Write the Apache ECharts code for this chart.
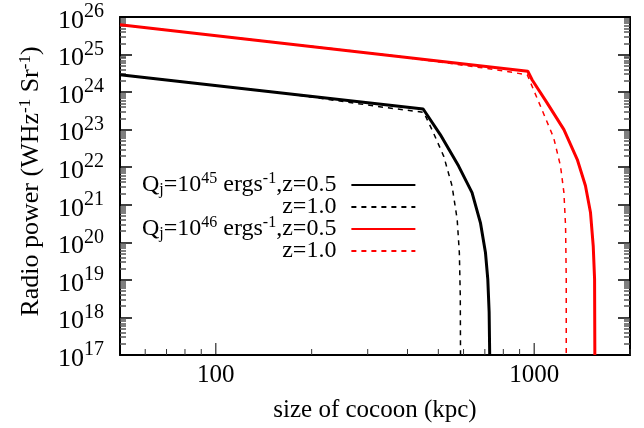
<!DOCTYPE html>
<html>
<head>
<meta charset="utf-8">
<script src="https://cdn.jsdelivr.net/npm/echarts@6/dist/echarts.min.js"></script>
<style>html,body{margin:0;padding:0;background:#fff}#c{width:644px;height:428px}</style>
</head>
<body>
<div id="c"></div>
<script>
// Data (x: cocoon size in kpc, y: radio power in W Hz^-1 Sr^-1)
var q45z05_size  = [50, 448, 507, 579, 638, 678, 703, 715, 722, 725];
var q45z05_power = [2.9e24, 3.55e23, 7.4e22, 1.07e22, 2.1e21, 3.3e20, 5.4e19, 1.05e19, 1.4e18, 1.0e17];
var q45z10_size  = [50, 168, 340, 450, 483, 520, 552, 573, 582, 586, 587];
var q45z10_power = [2.9e24, 9.1e23, 3.9e23, 2.9e23, 8.1e22, 1.95e22, 3.2e21, 4.1e20, 5.4e19, 3.7e18, 1.0e17];
var q46z05_size  = [50, 955, 986, 1099, 1240, 1366, 1449, 1503, 1533, 1548, 1551];
var q46z05_power = [6.2e25, 3.6e24, 2.1e24, 5.1e23, 1.0e23, 1.6e22, 3.2e21, 6.2e20, 7.9e19, 1.05e19, 1.0e17];
var q46z10_size  = [50, 346, 750, 951, 1047, 1152, 1210, 1240, 1255, 1261, 1261];
var q46z10_power = [6.2e25, 9.8e24, 4.0e24, 2.9e24, 4.2e23, 6.0e22, 1.07e22, 2.1e21, 2.7e20, 1.05e19, 1.0e17];
var xTickLabels = [100, 1000];
var xMajorTicks = [100, 1000];
var xMinorTicks = [60, 70, 80, 90, 200, 300, 400, 500, 600, 700, 800, 900, 2000];
var legendLabels = {
  a: '{n|Q}{sub|j}{n|=10}{sup|45}{n| ergs}{sup|-1}{n|,z=0.5}',
  b: '{n|z=1.0}',
  c: '{n|Q}{sub|j}{n|=10}{sup|46}{n| ergs}{sup|-1}{n|,z=0.5}',
  d: '{n|z=1.0}'
};

var X_MIN = 50, X_MAX = 2000, Y_MIN = 1e17, Y_MAX = 1e26;

function pairs(xs, ys) { return xs.map(function (x, i) { return [x, ys[i]]; }); }

var FONT = 'Liberation Serif';
var chart = echarts.init(document.getElementById('c'), null, {renderer: 'canvas'});

function tickSeries(data, len, color) {
  return {
    type: 'custom', silent: true, clip: false, z: 5,
    dimensions: ['x', 'y'], encode: {x: 0, y: 1},
    data: data,
    renderItem: function (params, api) {
      var p = api.coord([api.value(0), api.value(1)]);
      return {
        type: 'line',
        shape: {x1: p[0], y1: p[1], x2: p[0], y2: p[1] - len},
        style: {stroke: color, lineWidth: 1}
      };
    }
  };
}

// helper y axes: outward ticks shifted into the plot so they read as inward ticks
function yTickAxis(position, offset, major) {
  return {
    type: 'log', min: Y_MIN, max: Y_MAX, interval: 1, position: position, offset: offset,
    axisLine: {show: false}, axisLabel: {show: false},
    splitLine: {show: false}, minorSplitLine: {show: false},
    axisTick: major ? {show: true, inside: false, length: 12, lineStyle: {color: '#000', width: 1.5}} : {show: false},
    minorTick: major ? {show: false} : {show: true, splitNumber: 9, length: 6, lineStyle: {color: '#555', width: 1.5}}
  };
}

var noTicks = {axisTick: {show: false}, minorTick: {show: false}, splitLine: {show: false}, minorSplitLine: {show: false}};

var option = {
  animation: false,
  backgroundColor: '#fff',
  grid: {left: 120, right: 14, top: 17, bottom: 72, containLabel: false},
  xAxis: [Object.assign({
    type: 'log', min: X_MIN, max: X_MAX,
    axisLine: {show: true, lineStyle: {color: '#000', width: 2}},
    name: 'size of cocoon (kpc)', nameLocation: 'middle', nameGap: 43,
    nameTextStyle: {fontFamily: FONT, fontSize: 25, color: '#000'},
    axisLabel: {
      show: true, fontFamily: FONT, fontSize: 25, color: '#000', margin: 8,
      formatter: function (v) {
        for (var i = 0; i < xTickLabels.length; i++) if (Math.abs(v - xTickLabels[i]) < 1e-6 * v) return String(xTickLabels[i]);
        return '';
      }
    }
  }, noTicks), Object.assign({
    type: 'log', min: X_MIN, max: X_MAX, position: 'top',
    axisLine: {show: true, lineStyle: {color: '#000', width: 2}},
    axisLabel: {show: false}
  }, noTicks)],
  yAxis: [Object.assign({
    type: 'log', min: Y_MIN, max: Y_MAX, interval: 1,
    axisLine: {show: true, lineStyle: {color: '#000', width: 2}},
    name: '{n|Radio power (WHz}{sup|-1}{n| Sr}{sup|-1}{n|)}',
    nameLocation: 'middle', nameGap: 74, nameRotate: 90,
    nameTextStyle: {fontFamily: FONT, color: '#000', padding: [0, 0, 0, 9], rich: {
      n: {fontFamily: FONT, fontSize: 26, color: '#000'},
      sup: {fontFamily: FONT, fontSize: 17, color: '#000', padding: [0, 0, 12, 0]}
    }},
    axisLabel: {
      show: true, fontFamily: FONT, color: '#000', margin: 16,
      formatter: function (v) {
        var e = Math.round(Math.log10(v));
        return '{b|10}{s|' + e + '}';
      },
      rich: {
        b: {fontFamily: FONT, fontSize: 26, color: '#000', padding: [8, 0, 0, 0]},
        s: {fontFamily: FONT, fontSize: 20, color: '#000', padding: [0, 0, 10, 0]}
      }
    }
  }, noTicks), Object.assign({
    type: 'log', min: Y_MIN, max: Y_MAX, interval: 1, position: 'right',
    axisLine: {show: true, lineStyle: {color: '#000', width: 2}},
    axisLabel: {show: false}
  }, noTicks),
    yTickAxis('left', -12, true),
    yTickAxis('left', -6, false),
    yTickAxis('right', -12, true),
    yTickAxis('right', -6, false)
  ],
  legend: {
    orient: 'vertical', left: 137, top: 166, align: 'right',
    itemWidth: 64, itemHeight: 10, itemGap: -4,
    data: ['a', 'b', 'c', 'd'],
    itemStyle: {color: 'rgba(0,0,0,0)', borderWidth: 0, opacity: 0},
    formatter: function (name) { return legendLabels[name]; },
    textStyle: {
      width: 199, align: 'right', padding: [0, 10, 0, 0],
      rich: {
        n: {fontFamily: FONT, fontSize: 24, color: '#000', lineHeight: 22},
        sup: {fontFamily: FONT, fontSize: 16, color: '#000', lineHeight: 22, padding: [0, 0, 12, 0]},
        sub: {fontFamily: FONT, fontSize: 16, color: '#000', lineHeight: 22, padding: [10, 0, 0, 0]}
      }
    }
  },
  series: [
    {name: 'a', type: 'line', symbol: 'none', data: pairs(q45z05_size, q45z05_power), lineStyle: {color: '#000', width: 3}, itemStyle: {color: '#000'}},
    {name: 'b', type: 'line', symbol: 'none', data: pairs(q45z10_size, q45z10_power), lineStyle: {color: '#000', width: 1.5, type: [5, 5]}, itemStyle: {color: '#000'}},
    {name: 'c', type: 'line', symbol: 'none', data: pairs(q46z05_size, q46z05_power), lineStyle: {color: '#f00', width: 3}, itemStyle: {color: '#f00'}},
    {name: 'd', type: 'line', symbol: 'none', data: pairs(q46z10_size, q46z10_power), lineStyle: {color: '#f00', width: 1.5, type: [5, 5]}, itemStyle: {color: '#f00'}},
    tickSeries(xMajorTicks.map(function (v) { return [v, Y_MIN]; }), 12, '#000'),
    tickSeries(xMinorTicks.map(function (v) { return [v, Y_MIN]; }), 6, '#333')
  ]
};
chart.setOption(option);
</script>
</body>
</html>
